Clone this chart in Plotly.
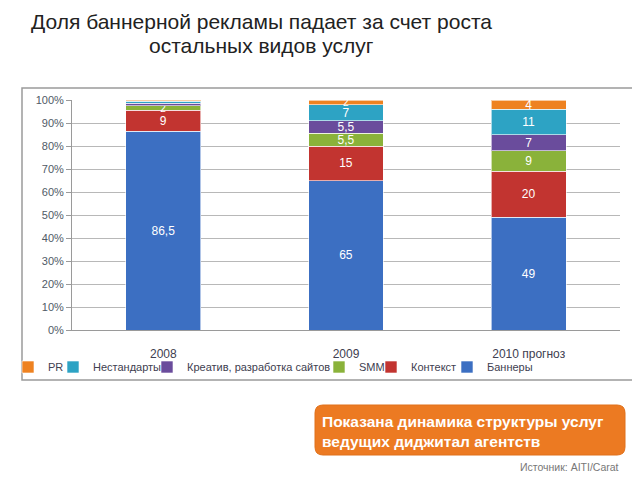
import plotly.graph_objects as go

years = ['2008', '2009', '2010 прогноз']

bannery = [86.5, 65, 49]
kontekst = [9, 15, 20]
smm = [2, 5.5, 9]
kreativ = [1, 5.5, 7]
nestandarty = [1, 7, 11]
pr = [0.5, 2, 4]

# labels shown on the bars (empty = not shown)
lbl_bannery = ['86,5', '65', '49']
lbl_kontekst = ['9', '15', '20']
lbl_smm = ['2', '5,5', '9']
lbl_kreativ = ['', '5,5', '7']
lbl_nestandarty = ['', '7', '11']
lbl_pr = ['', '2', '4']

# name, values, labels, colour, legend id, legend text start (px)
series = [
    ('Баннеры', bannery, lbl_bannery, '#3C6FC2', 'legend6', 488),
    ('Контекст', kontekst, lbl_kontekst, '#C23430', 'legend5', 412),
    ('SMM', smm, lbl_smm, '#8AB23A', 'legend4', 360),
    ('Креатив, разработка сайтов', kreativ, lbl_kreativ, '#6A4C9C', 'legend3', 188),
    ('Нестандарты', nestandarty, lbl_nestandarty, '#2DA3C4', 'legend2', 94),
    ('PR', pr, lbl_pr, '#EE8221', 'legend', 43),
]

W, H = 632, 472  # page body has an 8px margin


def px(x):
    return (x - 72) / 548.


def py(y):
    return (330 - y) / 230.


fig = go.Figure()
legends = {}
for name, vals, lbl, col, lg, tx in series:
    sizes = [12 if v >= 4 else 10 for v in vals]
    fig.add_trace(go.Bar(x=years, y=vals, name=name, text=lbl, legend=lg,
                         marker=dict(color=col, line=dict(color='rgba(255,255,255,0.6)', width=1)),
                         textposition='inside', insidetextanchor='middle',
                         constraintext='none', textangle=0,
                         textfont=dict(color='white', size=sizes, family='Liberation Sans'),
                         hoverinfo='name+y', width=0.41))
    legends[lg] = dict(orientation='h', xref='container', yref='container',
                       x=(tx - 41 - 8) / W, y=1 - (367 - 8) / H,
                       xanchor='left', yanchor='middle', bgcolor='rgba(0,0,0,0)',
                       font=dict(size=11, color='#404050', family='Liberation Sans'),
                       itemwidth=30)

shapes = [dict(type='rect', xref='paper', yref='paper',
               x0=px(22), x1=px(635), y0=py(380), y1=py(88),
               line=dict(color='#9a9a9a', width=1.5), layer='below')]

# orange rounded box
x0, x1, y0, y1, r = 315, 625, 405, 455, 8
path = (f'M {px(x0+r)} {py(y0)} L {px(x1-r)} {py(y0)} Q {px(x1)} {py(y0)} {px(x1)} {py(y0+r)} '
        f'L {px(x1)} {py(y1-r)} Q {px(x1)} {py(y1)} {px(x1-r)} {py(y1)} '
        f'L {px(x0+r)} {py(y1)} Q {px(x0)} {py(y1)} {px(x0)} {py(y1-r)} '
        f'L {px(x0)} {py(y0+r)} Q {px(x0)} {py(y0)} {px(x0+r)} {py(y0)} Z')
shapes.append(dict(type='path', xref='paper', yref='paper', path=path,
                   fillcolor='#EC7A22', line=dict(color='#E0701A', width=1)))

title_font = dict(size=21, color='#222222', family='Liberation Sans')
annotations = [
    dict(text='Доля баннерной рекламы падает за счет роста',
         xref='paper', yref='paper', x=px(261), y=py(21), xanchor='center', yanchor='middle',
         showarrow=False, font=title_font),
    dict(text='остальных видов услуг',
         xref='paper', yref='paper', x=px(261), y=py(45), xanchor='center', yanchor='middle',
         showarrow=False, font=title_font),
    dict(text='<b>Показана динамика структуры услуг<br>ведущих диджитал агентств</b>',
         xref='paper', yref='paper', x=px(320), y=py(431), xanchor='left', yanchor='middle',
         showarrow=False, align='left',
         font=dict(size=15.5, color='white', family='Liberation Sans')),
    dict(text='Источник: AITI/Carat',
         xref='paper', yref='paper', x=px(621), y=py(467), xanchor='right', yanchor='middle',
         showarrow=False, font=dict(size=10.5, color='#777777', family='Liberation Sans')),
]

fig.update_layout(
    barmode='stack',
    width=W, height=H,
    margin=dict(l=64, r=20, t=92, b=150, autoexpand=False),
    paper_bgcolor='white', plot_bgcolor='white',
    showlegend=True,
    shapes=shapes,
    annotations=annotations,
    font=dict(family='Liberation Sans'),
    **legends,
)
fig.update_yaxes(range=[0, 100], dtick=10, ticksuffix='%', showgrid=True,
                 gridcolor='#b8b8b8', gridwidth=1, showline=True, linecolor='#9a9a9a',
                 ticks='outside', ticklen=5, tickcolor='#9a9a9a',
                 tickfont=dict(size=11, color='#505a66'), zeroline=False)
fig.update_xaxes(showline=True, linecolor='#9a9a9a', ticks='',
                 tickfont=dict(size=12, color='#404050'), ticklabelstandoff=13)

fig.write_html('out.html')
